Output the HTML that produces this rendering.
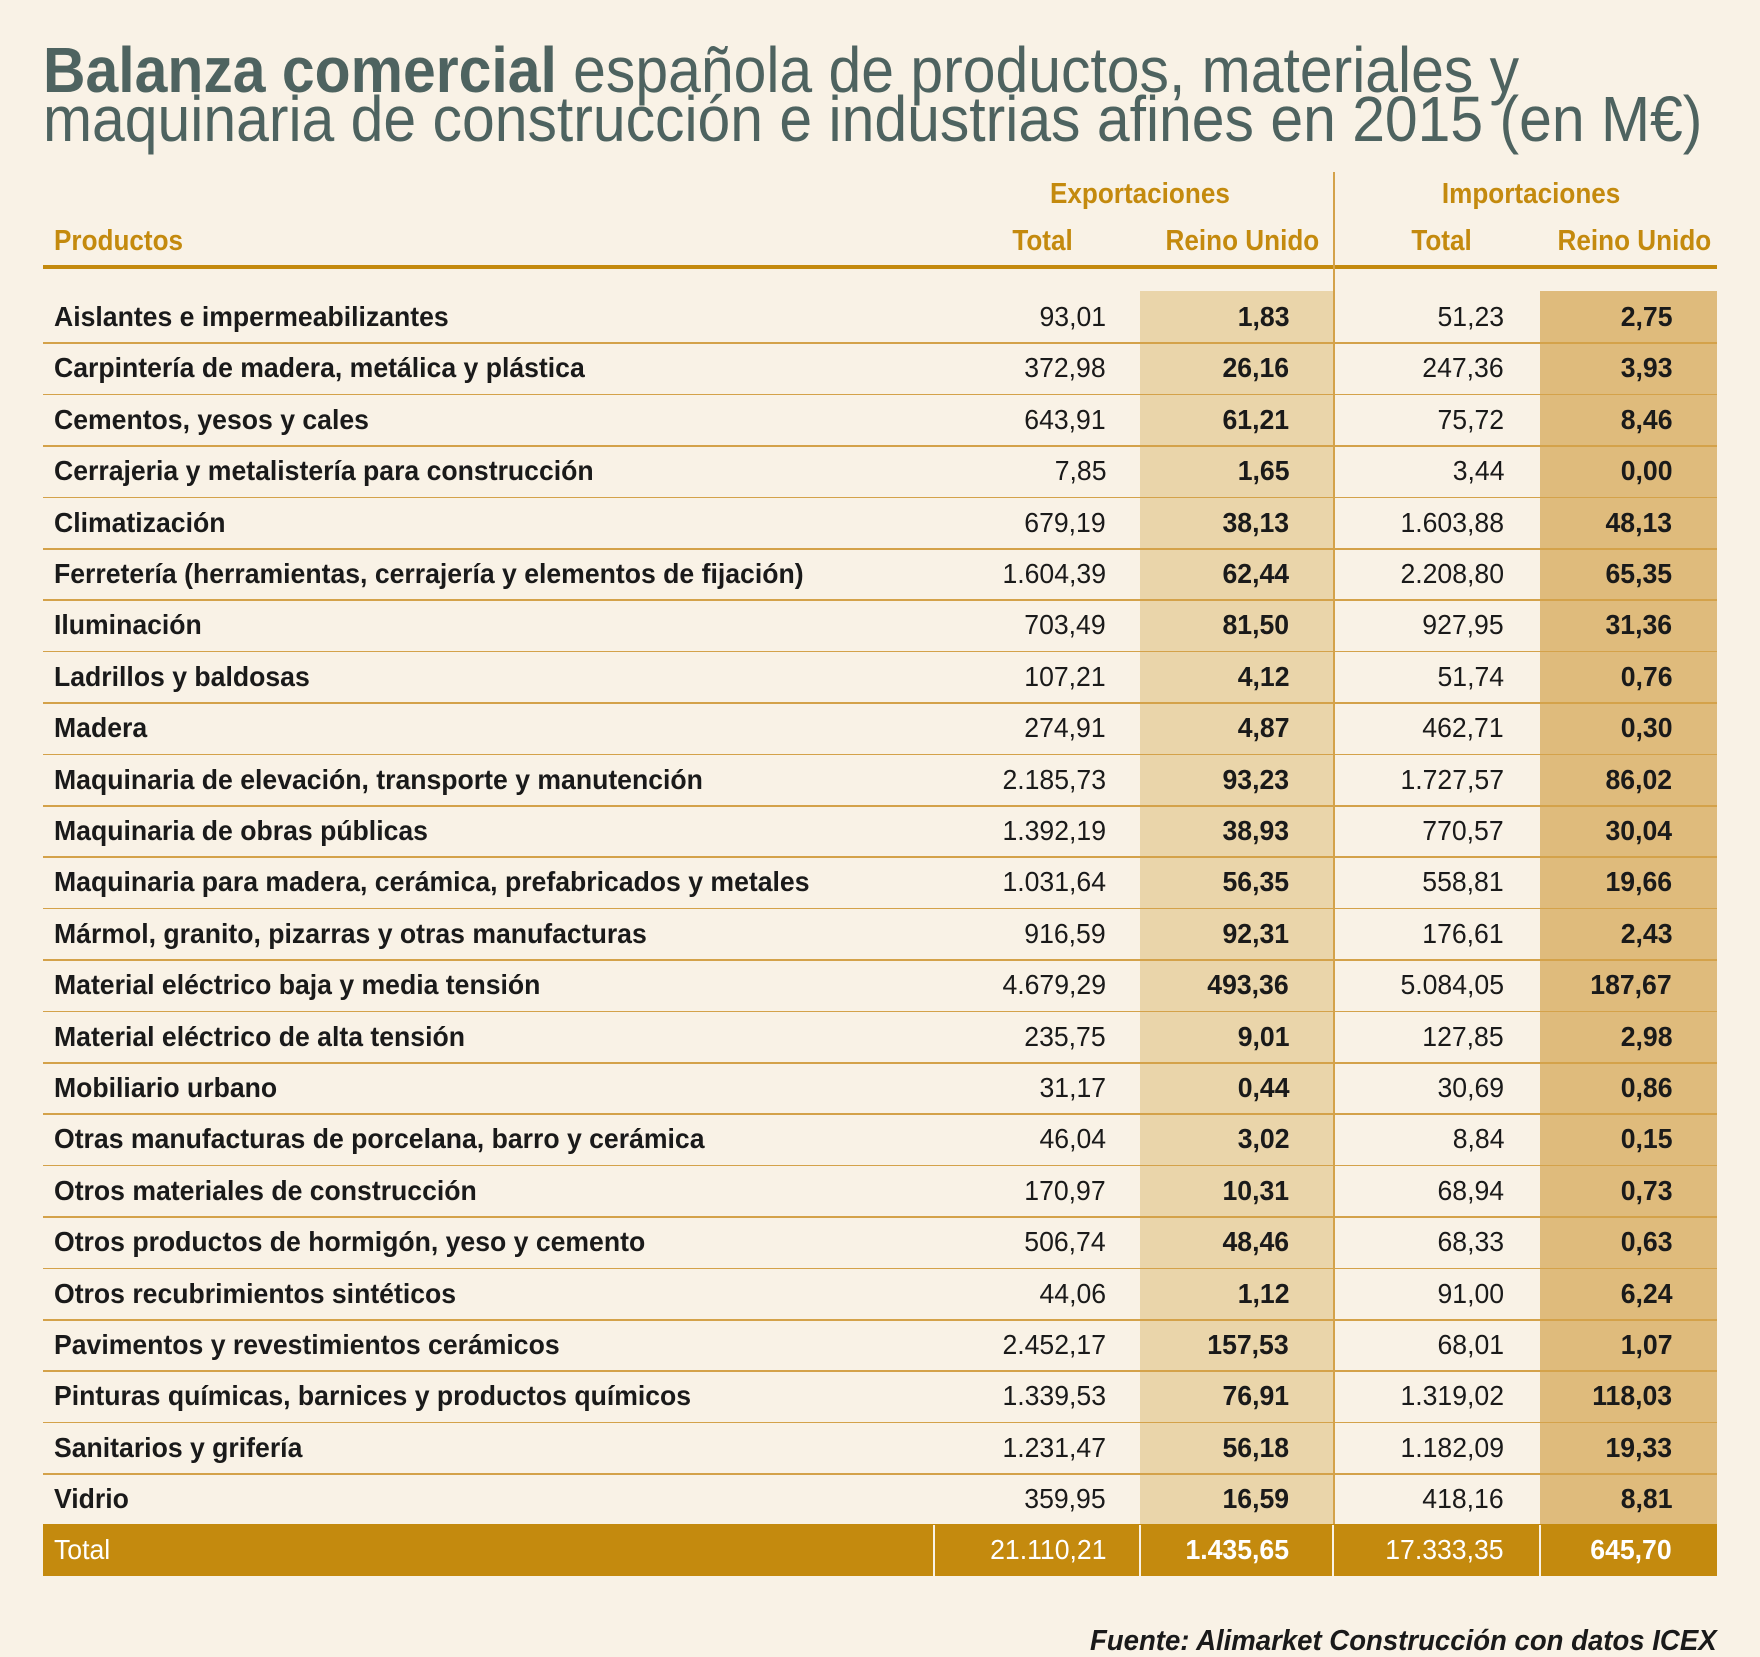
<!DOCTYPE html>
<html><head><meta charset="utf-8"><style>
*{margin:0;padding:0;box-sizing:border-box}
body{width:1760px;height:1657px;background:#f9f2e6;position:relative;overflow:hidden;font-family:"Liberation Sans",sans-serif}
.a{position:absolute;white-space:nowrap}
.t{font-size:64px;color:#4e6360;left:43px;transform:scaleX(0.92);transform-origin:left center;line-height:60px}
.h{color:#c48a0e;font-weight:bold;font-size:29px;line-height:30px}
.hs{display:inline-block;transform:scaleX(0.9)}
.sx{display:inline-block;transform:scaleX(0.95)}
.L{transform-origin:left center}.R{transform-origin:right center}.C{transform-origin:center}
.row{position:absolute;left:0;width:1760px;height:51.4px;line-height:51px;font-size:28px;color:#1a1a1a}
.row .a{top:0}
.lab{left:54px;font-weight:bold}
.c1{right:654px}.c2{right:471px;font-weight:bold}.c3{right:256px}.c4{right:88px;font-weight:bold}
.line{position:absolute;left:43px;width:1674px;height:1.5px;background:#d4a24a}
</style></head><body>
<div class="a t" style="top:40px"><b>Balanza comercial</b> española de productos, materiales y</div>
<div class="a t" style="top:89px">maquinaria de construcción e industrias afines en 2015 (en M€)</div>

<div class="a h" style="left:1040px;top:179px;width:200px;text-align:center"><span class="hs C">Exportaciones</span></div>
<div class="a h" style="left:1431px;top:179px;width:200px;text-align:center"><span class="hs C">Importaciones</span></div>
<div class="a h" style="left:54px;top:226px"><span class="hs L">Productos</span></div>
<div class="a h" style="left:993px;top:226px;width:100px;text-align:center"><span class="hs C">Total</span></div>
<div class="a h" style="left:1142px;top:226px;width:200px;text-align:center"><span class="hs C">Reino Unido</span></div>
<div class="a h" style="left:1392px;top:226px;width:100px;text-align:center"><span class="hs C">Total</span></div>
<div class="a h" style="left:1534px;top:226px;width:200px;text-align:center"><span class="hs C">Reino Unido</span></div>
<div class="a" style="left:43px;top:265px;width:1674px;height:4px;background:#c48a0e"></div>
<div class="a" style="left:1140px;top:291px;width:193px;height:1233px;background:#ead5aa"></div>
<div class="a" style="left:1540px;top:291px;width:177px;height:1233px;background:#dfbb7c"></div>
<div class="a" style="left:1333px;top:172px;width:1.5px;height:1352px;background:#d4a24a"></div>

<div class="line" style="top:342.4px"></div><div class="line" style="top:393.8px"></div><div class="line" style="top:445.2px"></div><div class="line" style="top:496.6px"></div><div class="line" style="top:548px"></div><div class="line" style="top:599.4px"></div><div class="line" style="top:650.8px"></div><div class="line" style="top:702.2px"></div><div class="line" style="top:753.6px"></div><div class="line" style="top:805px"></div><div class="line" style="top:856.4px"></div><div class="line" style="top:907.8px"></div><div class="line" style="top:959.2px"></div><div class="line" style="top:1010.6px"></div><div class="line" style="top:1062px"></div><div class="line" style="top:1113.4px"></div><div class="line" style="top:1164.8px"></div><div class="line" style="top:1216.2px"></div><div class="line" style="top:1267.6px"></div><div class="line" style="top:1319px"></div><div class="line" style="top:1370.4px"></div><div class="line" style="top:1421.8px"></div><div class="line" style="top:1473.2px"></div>

<div class="row" style="top:291px"><div class="a lab"><span class="sx L">Aislantes e impermeabilizantes</span></div><div class="a c1"><span class="sx R">93,01</span></div><div class="a c2"><span class="sx R">1,83</span></div><div class="a c3"><span class="sx R">51,23</span></div><div class="a c4"><span class="sx R">2,75</span></div></div>
<div class="row" style="top:342.4px"><div class="a lab"><span class="sx L">Carpintería de madera, metálica y plástica</span></div><div class="a c1"><span class="sx R">372,98</span></div><div class="a c2"><span class="sx R">26,16</span></div><div class="a c3"><span class="sx R">247,36</span></div><div class="a c4"><span class="sx R">3,93</span></div></div>
<div class="row" style="top:393.8px"><div class="a lab"><span class="sx L">Cementos, yesos y cales</span></div><div class="a c1"><span class="sx R">643,91</span></div><div class="a c2"><span class="sx R">61,21</span></div><div class="a c3"><span class="sx R">75,72</span></div><div class="a c4"><span class="sx R">8,46</span></div></div>
<div class="row" style="top:445.2px"><div class="a lab"><span class="sx L">Cerrajeria y metalistería para construcción</span></div><div class="a c1"><span class="sx R">7,85</span></div><div class="a c2"><span class="sx R">1,65</span></div><div class="a c3"><span class="sx R">3,44</span></div><div class="a c4"><span class="sx R">0,00</span></div></div>
<div class="row" style="top:496.6px"><div class="a lab"><span class="sx L">Climatización</span></div><div class="a c1"><span class="sx R">679,19</span></div><div class="a c2"><span class="sx R">38,13</span></div><div class="a c3"><span class="sx R">1.603,88</span></div><div class="a c4"><span class="sx R">48,13</span></div></div>
<div class="row" style="top:548px"><div class="a lab"><span class="sx L">Ferretería (herramientas, cerrajería y elementos de fijación)</span></div><div class="a c1"><span class="sx R">1.604,39</span></div><div class="a c2"><span class="sx R">62,44</span></div><div class="a c3"><span class="sx R">2.208,80</span></div><div class="a c4"><span class="sx R">65,35</span></div></div>
<div class="row" style="top:599.4px"><div class="a lab"><span class="sx L">Iluminación</span></div><div class="a c1"><span class="sx R">703,49</span></div><div class="a c2"><span class="sx R">81,50</span></div><div class="a c3"><span class="sx R">927,95</span></div><div class="a c4"><span class="sx R">31,36</span></div></div>
<div class="row" style="top:650.8px"><div class="a lab"><span class="sx L">Ladrillos y baldosas</span></div><div class="a c1"><span class="sx R">107,21</span></div><div class="a c2"><span class="sx R">4,12</span></div><div class="a c3"><span class="sx R">51,74</span></div><div class="a c4"><span class="sx R">0,76</span></div></div>
<div class="row" style="top:702.2px"><div class="a lab"><span class="sx L">Madera</span></div><div class="a c1"><span class="sx R">274,91</span></div><div class="a c2"><span class="sx R">4,87</span></div><div class="a c3"><span class="sx R">462,71</span></div><div class="a c4"><span class="sx R">0,30</span></div></div>
<div class="row" style="top:753.6px"><div class="a lab"><span class="sx L">Maquinaria de elevación, transporte y manutención</span></div><div class="a c1"><span class="sx R">2.185,73</span></div><div class="a c2"><span class="sx R">93,23</span></div><div class="a c3"><span class="sx R">1.727,57</span></div><div class="a c4"><span class="sx R">86,02</span></div></div>
<div class="row" style="top:805px"><div class="a lab"><span class="sx L">Maquinaria de obras públicas</span></div><div class="a c1"><span class="sx R">1.392,19</span></div><div class="a c2"><span class="sx R">38,93</span></div><div class="a c3"><span class="sx R">770,57</span></div><div class="a c4"><span class="sx R">30,04</span></div></div>
<div class="row" style="top:856.4px"><div class="a lab"><span class="sx L">Maquinaria para madera, cerámica, prefabricados y metales</span></div><div class="a c1"><span class="sx R">1.031,64</span></div><div class="a c2"><span class="sx R">56,35</span></div><div class="a c3"><span class="sx R">558,81</span></div><div class="a c4"><span class="sx R">19,66</span></div></div>
<div class="row" style="top:907.8px"><div class="a lab"><span class="sx L">Mármol, granito, pizarras y otras manufacturas</span></div><div class="a c1"><span class="sx R">916,59</span></div><div class="a c2"><span class="sx R">92,31</span></div><div class="a c3"><span class="sx R">176,61</span></div><div class="a c4"><span class="sx R">2,43</span></div></div>
<div class="row" style="top:959.2px"><div class="a lab"><span class="sx L">Material eléctrico baja y media tensión</span></div><div class="a c1"><span class="sx R">4.679,29</span></div><div class="a c2"><span class="sx R">493,36</span></div><div class="a c3"><span class="sx R">5.084,05</span></div><div class="a c4"><span class="sx R">187,67</span></div></div>
<div class="row" style="top:1010.6px"><div class="a lab"><span class="sx L">Material eléctrico de alta tensión</span></div><div class="a c1"><span class="sx R">235,75</span></div><div class="a c2"><span class="sx R">9,01</span></div><div class="a c3"><span class="sx R">127,85</span></div><div class="a c4"><span class="sx R">2,98</span></div></div>
<div class="row" style="top:1062px"><div class="a lab"><span class="sx L">Mobiliario urbano</span></div><div class="a c1"><span class="sx R">31,17</span></div><div class="a c2"><span class="sx R">0,44</span></div><div class="a c3"><span class="sx R">30,69</span></div><div class="a c4"><span class="sx R">0,86</span></div></div>
<div class="row" style="top:1113.4px"><div class="a lab"><span class="sx L">Otras manufacturas de porcelana, barro y cerámica</span></div><div class="a c1"><span class="sx R">46,04</span></div><div class="a c2"><span class="sx R">3,02</span></div><div class="a c3"><span class="sx R">8,84</span></div><div class="a c4"><span class="sx R">0,15</span></div></div>
<div class="row" style="top:1164.8px"><div class="a lab"><span class="sx L">Otros materiales de construcción</span></div><div class="a c1"><span class="sx R">170,97</span></div><div class="a c2"><span class="sx R">10,31</span></div><div class="a c3"><span class="sx R">68,94</span></div><div class="a c4"><span class="sx R">0,73</span></div></div>
<div class="row" style="top:1216.2px"><div class="a lab"><span class="sx L">Otros productos de hormigón, yeso y cemento</span></div><div class="a c1"><span class="sx R">506,74</span></div><div class="a c2"><span class="sx R">48,46</span></div><div class="a c3"><span class="sx R">68,33</span></div><div class="a c4"><span class="sx R">0,63</span></div></div>
<div class="row" style="top:1267.6px"><div class="a lab"><span class="sx L">Otros recubrimientos sintéticos</span></div><div class="a c1"><span class="sx R">44,06</span></div><div class="a c2"><span class="sx R">1,12</span></div><div class="a c3"><span class="sx R">91,00</span></div><div class="a c4"><span class="sx R">6,24</span></div></div>
<div class="row" style="top:1319px"><div class="a lab"><span class="sx L">Pavimentos y revestimientos cerámicos</span></div><div class="a c1"><span class="sx R">2.452,17</span></div><div class="a c2"><span class="sx R">157,53</span></div><div class="a c3"><span class="sx R">68,01</span></div><div class="a c4"><span class="sx R">1,07</span></div></div>
<div class="row" style="top:1370.4px"><div class="a lab"><span class="sx L">Pinturas químicas, barnices y productos químicos</span></div><div class="a c1"><span class="sx R">1.339,53</span></div><div class="a c2"><span class="sx R">76,91</span></div><div class="a c3"><span class="sx R">1.319,02</span></div><div class="a c4"><span class="sx R">118,03</span></div></div>
<div class="row" style="top:1421.8px"><div class="a lab"><span class="sx L">Sanitarios y grifería</span></div><div class="a c1"><span class="sx R">1.231,47</span></div><div class="a c2"><span class="sx R">56,18</span></div><div class="a c3"><span class="sx R">1.182,09</span></div><div class="a c4"><span class="sx R">19,33</span></div></div>
<div class="row" style="top:1473.2px"><div class="a lab"><span class="sx L">Vidrio</span></div><div class="a c1"><span class="sx R">359,95</span></div><div class="a c2"><span class="sx R">16,59</span></div><div class="a c3"><span class="sx R">418,16</span></div><div class="a c4"><span class="sx R">8,81</span></div></div>

<div class="a" style="left:43px;top:1524px;width:1674px;height:52px;background:#c48a0e"></div>
<div class="a" style="left:933px;top:1525px;width:2px;height:51px;background:#f9f2e6"></div>
<div class="a" style="left:1139px;top:1525px;width:2px;height:51px;background:#f9f2e6"></div>
<div class="a" style="left:1332px;top:1525px;width:2px;height:51px;background:#f9f2e6"></div>
<div class="a" style="left:1539px;top:1525px;width:2px;height:51px;background:#f9f2e6"></div>
<div class="row" style="top:1524px;color:#fff"><div class="a" style="left:54px"><span class="sx L">Total</span></div><div class="a c1"><span class="sx R">21.110,21</span></div><div class="a c2"><span class="sx R">1.435,65</span></div><div class="a c3"><span class="sx R">17.333,35</span></div><div class="a c4"><span class="sx R">645,70</span></div></div>

<div class="a" style="right:43px;top:1626px;font-size:29px;font-weight:bold;font-style:italic;color:#1a1a1a;line-height:30px"><span class="sx R">Fuente: Alimarket Construcción con datos ICEX</span></div>
</body></html>
